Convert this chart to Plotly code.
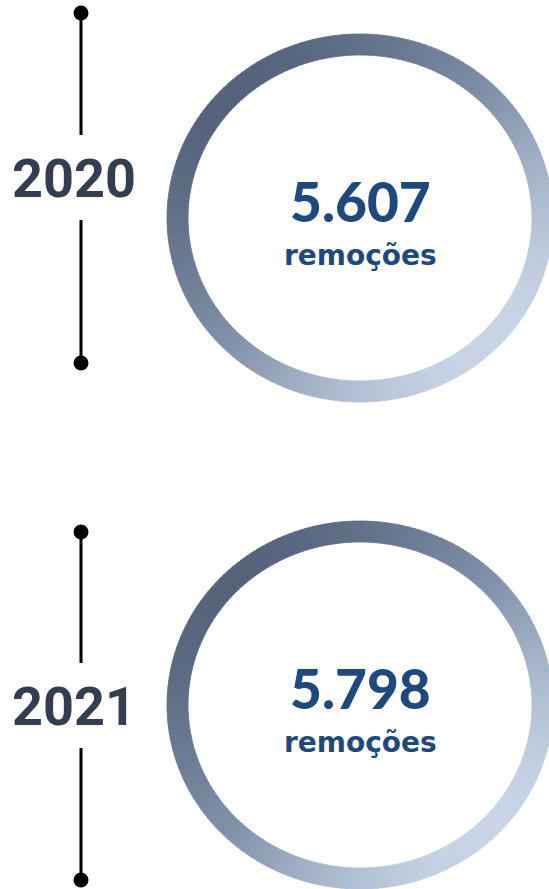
import numpy as np
import plotly.graph_objects as go
from plotly.colors import sample_colorscale

# data
years = ["2020", "2021"]
removals = [5607, 5798]
unit_label = "remoções"

# layout (pixel coords, y downward)
W, H = 549, 889
ring_cx = 360
ring_cy = [218, 705]
ring_a, ring_b, ring_w = 193, 184, 21
line_x = 81
line_ends = [(13, 363), (532, 880)]
gap = [(135, 220), (663, 748)]
year_y = [178, 706]

ring_scale = [[0.0, "#55647b"], [0.5, "#8091a9"], [1.0, "#c9d5e6"]]

fig = go.Figure()

n_seg = 200
for cy in ring_cy:
    edges = np.linspace(0, 2 * np.pi, n_seg + 1)
    for t0, t1 in zip(edges[:-1], edges[1:]):
        th = np.linspace(t0, t1 + 0.004, 5)
        xo = ring_cx + ring_a * np.cos(th)
        yo = cy + ring_b * np.sin(th)
        xi = ring_cx + (ring_a - ring_w) * np.cos(th[::-1])
        yi = cy + (ring_b - ring_w) * np.sin(th[::-1])
        m = (t0 + t1) / 2
        pos = ((np.cos(m) + np.sin(m)) / np.sqrt(2) + 1) / 2
        c = sample_colorscale(ring_scale, [pos])[0]
        fig.add_trace(go.Scatter(
            x=np.concatenate([xo, xi, xo[:1]]), y=np.concatenate([yo, yi, yo[:1]]),
            mode="lines", fill="toself", fillcolor=c,
            line=dict(color=c, width=0.8), hoverinfo="skip", showlegend=False))

for i, yr in enumerate(years):
    y0, y1 = line_ends[i]
    g0, g1 = gap[i]
    fig.add_trace(go.Scatter(
        x=[line_x, line_x, None, line_x, line_x], y=[y0, g0, None, g1, y1],
        mode="lines", line=dict(color="#000000", width=3),
        hoverinfo="skip", showlegend=False))
    fig.add_trace(go.Scatter(
        x=[line_x, line_x], y=[y0, y1], mode="markers",
        marker=dict(color="#000000", size=15), cliponaxis=False,
        hoverinfo="skip", showlegend=False))
    fig.add_annotation(x=74, y=year_y[i], text=yr, showarrow=False,
                       xanchor="center", yanchor="middle",
                       font=dict(family="Roboto", size=54, color="#333f50", weight="bold"))
    fig.add_annotation(x=ring_cx, y=ring_cy[i] - 17,
                       text=f"{removals[i]:,}".replace(",", "."), showarrow=False,
                       xanchor="center", yanchor="middle",
                       font=dict(family="Lato", size=55, color="#1f497d", weight=900))
    fig.add_annotation(x=ring_cx, y=ring_cy[i] + 37, text=unit_label, showarrow=False,
                       xanchor="center", yanchor="middle",
                       font=dict(family="DejaVu Sans", size=28, color="#1f497d", weight="bold"))

fig.update_xaxes(range=[0, W], visible=False, fixedrange=True)
fig.update_yaxes(range=[H, 0], visible=False, fixedrange=True)
fig.update_layout(width=W, height=H, margin=dict(l=0, r=0, t=0, b=0),
                  plot_bgcolor="white", paper_bgcolor="white", hovermode=False)

# drop the default body margin so the figure sits at the page origin
fig.write_html("out.html", config={"displayModeBar": False},
               post_script="document.body.style.margin='0';document.body.style.overflow='hidden';")
